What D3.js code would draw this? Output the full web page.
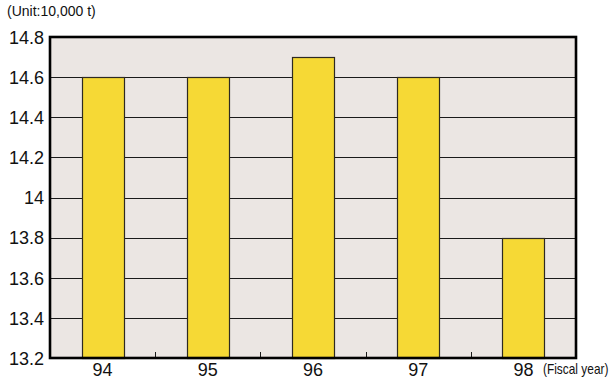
<!DOCTYPE html>
<html>
<head>
<meta charset="utf-8">
<script src="https://cdn.jsdelivr.net/npm/d3@7"></script>
<style>
  html, body { margin: 0; padding: 0; background: #ffffff; }
  svg { display: block; font-family: "Liberation Sans", Arial, Helvetica, sans-serif; }
</style>
</head>
<body>
<svg id="chart" width="613" height="380"></svg>
<script>
// Annual amounts by fiscal year (unit: 10,000 t)
const years = ["94", "95", "96", "97", "98"];
const amounts = [14.6, 14.6, 14.7, 14.6, 13.8];
const yTicks = [13.2, 13.4, 13.6, 13.8, 14, 14.2, 14.4, 14.6, 14.8];

(function () {
  const svg = d3.select("#chart");
  const pLeft = 50, pRight = 576, pTop = 37, pBottom = 358;

  const x = d3.scaleBand().domain(years).range([pLeft, pRight]).paddingInner(0.6).paddingOuter(0.3);
  const xStep = d3.scaleBand().domain(years).range([pLeft, pRight]);
  const y = d3.scaleLinear().domain([13.2, 14.8]).range([pBottom, pTop]);

  // plot background
  svg.append("rect")
    .attr("x", pLeft).attr("y", pTop)
    .attr("width", pRight - pLeft).attr("height", pBottom - pTop)
    .attr("fill", "#ebe6e3");

  // horizontal gridlines
  svg.append("g").selectAll("line")
    .data(yTicks.filter(t => t > 13.2 && t < 14.8))
    .join("line")
    .attr("x1", pLeft).attr("x2", pRight)
    .attr("y1", d => Math.round(y(d)) + 0.5).attr("y2", d => Math.round(y(d)) + 0.5)
    .attr("stroke", "#1a1a1a").attr("stroke-width", 1);

  // bars
  svg.append("g").selectAll("rect")
    .data(years.map((yr, i) => ({ yr, v: amounts[i] })))
    .join("rect")
    .attr("x", d => Math.round(x(d.yr)) + 0.5)
    .attr("y", d => Math.round(y(d.v)) + 0.5)
    .attr("width", Math.round(x.bandwidth()))
    .attr("height", d => Math.round(y(13.2)) - Math.round(y(d.v)))
    .attr("fill", "#f6d935")
    .attr("stroke", "#2e2a22").attr("stroke-width", 1.2);

  // small ticks between categories along the bottom
  svg.append("g").selectAll("line")
    .data(years.slice(1))
    .join("line")
    .attr("x1", d => Math.round(xStep(d)) + 0.5).attr("x2", d => Math.round(xStep(d)) + 0.5)
    .attr("y1", pBottom).attr("y2", pBottom - 6)
    .attr("stroke", "#1a1a1a").attr("stroke-width", 1);

  // frame
  svg.append("rect")
    .attr("x", pLeft).attr("y", pTop)
    .attr("width", pRight - pLeft).attr("height", pBottom - pTop)
    .attr("fill", "none")
    .attr("stroke", "#000").attr("stroke-width", 2.6);

  // y-axis labels
  const yAxis = d3.axisLeft(y).tickValues(yTicks).tickSize(0).tickPadding(6)
    .tickFormat(d => String(+d.toFixed(1)));
  const gy = svg.append("g").attr("transform", `translate(${pLeft},0)`).call(yAxis);
  gy.select(".domain").remove();
  gy.selectAll("text")
    .attr("font-size", 18).attr("fill", "#111")
    .attr("font-family", "'Liberation Sans', Arial, sans-serif")
    .attr("dy", "0.35em");

  // x-axis labels
  const xAxis = d3.axisBottom(x).tickSize(0).tickPadding(0);
  const gx = svg.append("g").attr("transform", `translate(0,${pBottom})`).call(xAxis);
  gx.select(".domain").remove();
  gx.selectAll("text")
    .attr("y", 18).attr("dy", null)
    .attr("font-size", 18).attr("fill", "#111")
    .attr("font-family", "'Liberation Sans', Arial, sans-serif");

  // unit and axis captions
  svg.append("text")
    .attr("x", 7).attr("y", 16)
    .attr("font-size", 14).attr("fill", "#111")
    .text("(Unit:10,000 t)");

  // condensed caption after the last category label
  svg.append("text")
    .attr("transform", "translate(543,374) scale(0.85,1)")
    .attr("font-size", 14).attr("fill", "#111")
    .text("(Fiscal year)");
})();
</script>
</body>
</html>
